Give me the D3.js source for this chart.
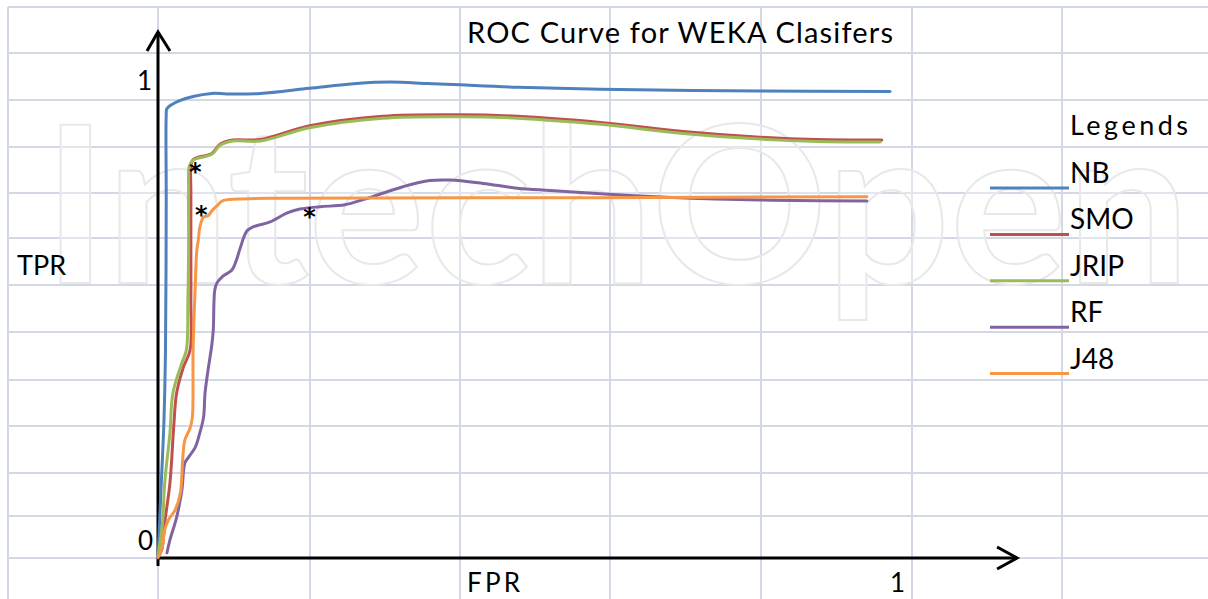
<!DOCTYPE html>
<html>
<head>
<meta charset="utf-8">
<title>ROC Curve for WEKA Clasifers</title>
<script src="https://cdn.jsdelivr.net/npm/d3@7/dist/d3.min.js"></script>
<style>
body { margin: 0; background: #fff; }
.grid line { stroke: #d2d9e5; stroke-width: 2px; }
.curve { fill: none; stroke-width: 3px; stroke-linejoin: round; stroke-linecap: round; }
.axisline { stroke: #000; stroke-width: 3px; fill: none; }
text { font-family: Lato, "Open Sans", sans-serif; fill: #000; }
</style>
</head>
<body>
<div id="chart"></div>
<script>

// series names and colours
var names  = ["NB", "SMO", "JRIP", "RF", "J48"];
var colors = ["#4f81bd", "#c0504d", "#9bbb59", "#8064a2", "#f79646"];

// values (FPR, TPR)
var nbFpr = [0, 0.004, 0.008, 0.010, 0.011, 0.011, 0.012, 0.029, 0.072, 0.092, 0.137, 0.203, 0.266, 0.311, 0.360, 0.404, 0.481, 0.592, 0.806, 0.980];
var nbTpr = [0, 0.143, 0.290, 0.437, 0.752, 0.930, 0.944, 0.961, 0.976, 0.975, 0.976, 0.987, 0.997, 1.000, 0.997, 0.994, 0.989, 0.985, 0.981, 0.980];

var smoFpr = [0, 0.005, 0.009, 0.016, 0.021, 0.025, 0.034, 0.043, 0.044, 0.044, 0.044, 0.044, 0.047, 0.072, 0.083, 0.100, 0.137, 0.203, 0.301, 0.404, 0.481, 0.592, 0.703, 0.806, 0.882, 0.969];
var smoTpr = [0.002, 0.017, 0.074, 0.158, 0.275, 0.347, 0.401, 0.437, 0.542, 0.647, 0.773, 0.819, 0.837, 0.850, 0.869, 0.878, 0.879, 0.908, 0.928, 0.931, 0.928, 0.915, 0.896, 0.884, 0.879, 0.878];

var jripFpr = [0, 0.006, 0.009, 0.016, 0.020, 0.032, 0.038, 0.040, 0.041, 0.041, 0.042, 0.047, 0.072, 0.083, 0.100, 0.137, 0.203, 0.301, 0.404, 0.481, 0.592, 0.703, 0.806, 0.882, 0.967];
var jripTpr = [0.004, 0.074, 0.158, 0.263, 0.347, 0.410, 0.437, 0.542, 0.647, 0.773, 0.824, 0.836, 0.848, 0.867, 0.876, 0.876, 0.904, 0.924, 0.927, 0.924, 0.911, 0.892, 0.880, 0.875, 0.874];

var rfFpr = [0.012, 0.016, 0.025, 0.032, 0.036, 0.041, 0.050, 0.056, 0.061, 0.063, 0.067, 0.072, 0.074, 0.076, 0.079, 0.087, 0.099, 0.105, 0.110, 0.119, 0.128, 0.150, 0.173, 0.190, 0.217, 0.250, 0.277, 0.328, 0.364, 0.391, 0.435, 0.481, 0.525, 0.592, 0.681, 0.806, 0.949];
var rfTpr = [0.011, 0.038, 0.086, 0.143, 0.200, 0.212, 0.233, 0.263, 0.296, 0.347, 0.395, 0.447, 0.479, 0.563, 0.578, 0.592, 0.605, 0.626, 0.651, 0.687, 0.696, 0.706, 0.725, 0.733, 0.738, 0.742, 0.754, 0.780, 0.793, 0.794, 0.787, 0.777, 0.772, 0.765, 0.758, 0.752, 0.750];

var j48Fpr = [0, 0.005, 0.009, 0.014, 0.023, 0.030, 0.033, 0.036, 0.043, 0.046, 0.047, 0.050, 0.052, 0.054, 0.056, 0.061, 0.067, 0.072, 0.079, 0.086, 0.106, 0.167, 0.592, 0.949];
var j48Tpr = [0.002, 0.017, 0.059, 0.080, 0.101, 0.137, 0.206, 0.248, 0.273, 0.296, 0.437, 0.578, 0.647, 0.668, 0.695, 0.716, 0.719, 0.729, 0.740, 0.750, 0.754, 0.756, 0.757, 0.759];

// the "*" operating points
var starFpr = [0.050, 0.058, 0.203];
var starTpr = [0.819, 0.728, 0.724];

var fprs = [nbFpr, smoFpr, jripFpr, rfFpr, j48Fpr];
var tprs = [nbTpr, smoTpr, jripTpr, rfTpr, j48Tpr];

var width = 1208, height = 599;

var svg = d3.select("#chart").append("svg")
    .attr("width", width)
    .attr("height", height);

// spreadsheet cells behind the chart
var cols = [8, 158, 310, 460, 610, 761, 912, 1062];
var rows = [7, 53, 100, 147, 193, 238, 285, 332, 380, 426, 473, 516, 558];

var grid = svg.append("g").attr("class", "grid");
grid.selectAll(".v").data(cols).enter().append("line")
    .attr("x1", function(d) { return d; }).attr("x2", function(d) { return d; })
    .attr("y1", 7).attr("y2", height);
grid.selectAll(".h").data(rows).enter().append("line")
    .attr("x1", 8).attr("x2", width)
    .attr("y1", function(d) { return d; }).attr("y2", function(d) { return d; });

// faint watermark
svg.append("text")
    .attr("x", 43).attr("y", 283)
    .attr("textLength", 1147)
    .attr("lengthAdjust", "spacingAndGlyphs")
    .style("font-size", "218px")
    .style("font-weight", "bold")
    .style("fill", "#fff")
    .style("fill-opacity", 0.35)
    .style("stroke", "#e8e8e8")
    .style("stroke-width", 2)
    .text("IntechOpen");

// scales
var x = d3.scaleLinear().domain([0, 1]).range([158, 905]);
var y = d3.scaleLinear().domain([0, 1]).range([558, 82]);

// axes with arrows
svg.append("path").attr("class", "axisline")
    .attr("d", "M" + x(0) + "," + (y(0) + 8) + "V" + y(1.105));
svg.append("path").attr("class", "axisline")
    .attr("d", "M" + (x(0) - 11) + "," + (y(1.105) + 19) + "L" + x(0) + "," + y(1.105) + "L" + (x(0) + 12) + "," + (y(1.105) + 19));
svg.append("path").attr("class", "axisline")
    .attr("d", "M" + x(0) + "," + y(0) + "H" + x(1.15));
svg.append("path").attr("class", "axisline")
    .attr("d", "M" + (x(1.15) - 20) + "," + (y(0) - 11) + "L" + x(1.15) + "," + y(0) + "L" + (x(1.15) - 20) + "," + (y(0) + 11));

// curves
var line = d3.line()
    .x(function(d) { return x(d[0]); })
    .y(function(d) { return y(d[1]); })
    .curve(d3.curveCatmullRom.alpha(0.5));

names.forEach(function(n, i) {
  var pts = fprs[i].map(function(f, k) { return [f, tprs[i][k]]; });
  svg.append("path")
      .datum(pts)
      .attr("class", "curve")
      .style("stroke", colors[i])
      .attr("d", line);
});

// operating point stars
svg.selectAll(".star").data(starFpr).enter().append("text")
    .attr("x", function(d) { return x(d); })
    .attr("y", function(d, i) { return y(starTpr[i]) + 12; })
    .attr("text-anchor", "middle")
    .style("font-family", "'DejaVu Sans', sans-serif")
    .style("font-weight", "bold")
    .style("font-size", "24px")
    .text("*");

// axis labels
svg.append("text").attr("x", 152).attr("y", 90).attr("text-anchor", "end").style("font-size", "26px").text("1");
svg.append("text").attr("x", 153).attr("y", 550).attr("text-anchor", "end").style("font-size", "26px").text("0");
svg.append("text").attr("x", 905).attr("y", 592).attr("text-anchor", "end").style("font-size", "26px").text("1");
svg.append("text").attr("x", 17).attr("y", 275).style("font-size", "27px").text("TPR");
svg.append("text").attr("x", 467).attr("y", 592).attr("textLength", 53).style("font-size", "26px").text("FPR");

// title
svg.append("text").attr("x", 467).attr("y", 43)
    .attr("textLength", 426)
    .style("font-size", "29px")
    .text("ROC Curve for WEKA Clasifers");

// legend
svg.append("text").attr("x", 1070).attr("y", 135)
    .attr("textLength", 118)
    .style("font-size", "27px")
    .text("Legends");
var leg = svg.selectAll(".leg").data(names).enter().append("g")
    .attr("transform", function(d, i) { return "translate(0," + (183 + i * 46.4) + ")"; });
leg.append("line")
    .attr("x1", 990).attr("x2", 1069).attr("y1", 5).attr("y2", 5)
    .style("stroke", function(d, i) { return colors[i]; })
    .style("stroke-width", 3);
leg.append("text").attr("x", 1070).attr("y", 0).style("font-size", "28px").text(function(d) { return d; });

</script>
</body>
</html>
